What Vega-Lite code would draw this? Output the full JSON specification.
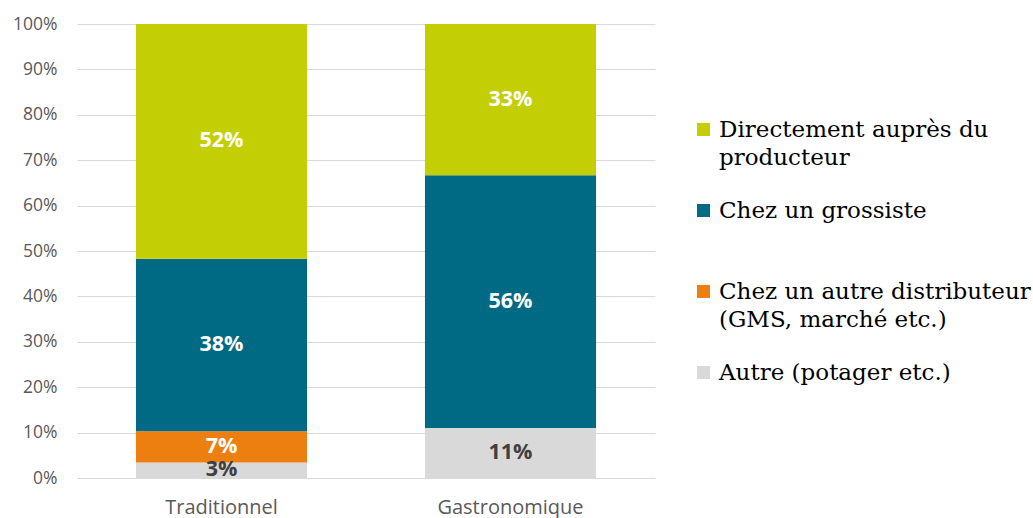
{
  "$schema": "https://vega.github.io/schema/vega-lite/v6.json",
  "width": 578,
  "height": 454,
  "autosize": {"type": "none"},
  "padding": {"left": 77, "top": 24, "right": 378, "bottom": 40},
  "background": "white",
  "config": {"view": {"stroke": null}, "font": "Open Sans", "style": {"guide-label": {"lineHeight": 28}}},
  "data": {"values": [
    {"type": "Traditionnel", "cat": "Autre (potager etc.)", "k": 1, "v": 0.034},
    {"type": "Traditionnel", "cat": "Chez un autre distributeur (GMS, marché etc.)", "k": 2, "v": 0.069},
    {"type": "Traditionnel", "cat": "Chez un grossiste", "k": 3, "v": 0.38},
    {"type": "Traditionnel", "cat": "Directement auprès du producteur", "k": 4, "v": 0.517},
    {"type": "Gastronomique", "cat": "Autre (potager etc.)", "k": 1, "v": 0.11},
    {"type": "Gastronomique", "cat": "Chez un grossiste", "k": 3, "v": 0.557},
    {"type": "Gastronomique", "cat": "Directement auprès du producteur", "k": 4, "v": 0.333}
  ]},
  "transform": [
    {"stack": "v", "groupby": ["type"], "sort": [{"field": "k", "order": "ascending"}], "as": ["v0", "v1"]},
    {"calculate": "(datum.v0 + datum.v1) / 2", "as": "mid"}
  ],
  "encoding": {
    "x": {
      "field": "type", "type": "nominal", "sort": ["Traditionnel", "Gastronomique"],
      "scale": {"paddingInner": 0.408, "paddingOuter": 0.204},
      "axis": {"title": null, "labelAngle": 0, "domain": false, "ticks": false, "tickSize": 0, "labelPadding": 19, "labelFontSize": 20, "labelColor": "#595959", "labelFont": "Open Sans"}
    }
  },
  "layer": [
    {
      "mark": {"type": "bar"},
      "encoding": {
        "y": {"field": "v1", "type": "quantitative", "scale": {"domain": [0, 1]},
          "axis": {"title": null, "format": ".0%", "values": [0, 0.1, 0.2, 0.3, 0.4, 0.5, 0.6, 0.7, 0.8, 0.9, 1], "domain": false, "ticks": false, "tickSize": 0, "labelPadding": 20, "labelFontSize": 17.5, "labelColor": "#595959", "labelFont": "Open Sans", "gridColor": "#d9d9d9", "gridWidth": 1.2}},
        "y2": {"field": "v0"},
        "color": {
          "field": "cat", "type": "nominal",
          "scale": {
            "domain": ["Directement auprès du producteur", "Chez un grossiste", "Chez un autre distributeur (GMS, marché etc.)", "Autre (potager etc.)"],
            "range": ["#c3ce04", "#006984", "#ed7f10", "#d9d9d9"]
          },
          "legend": {
            "title": null, "orient": "none", "legendX": 615, "legendY": 94, "padding": 0,
            "symbolType": "square", "symbolSize": 169, "symbolStrokeWidth": 0, "symbolOpacity": 1,
            "labelFont": "DejaVu Serif", "labelFontSize": 23, "labelColor": "#000000", "labelLimit": 420, "labelOffset": 4,
            "rowPadding": 29,
            "labelExpr": "datum.label == 'Directement auprès du producteur' ? ['Directement auprès du', 'producteur'] : datum.label == 'Chez un autre distributeur (GMS, marché etc.)' ? ['Chez un autre distributeur', '(GMS, marché etc.)'] : [datum.label, '']"
          }
        }
      }
    },
    {
      "mark": {"type": "text", "fontWeight": "bold", "fontSize": 21.5, "font": "Open Sans"},
      "encoding": {
        "y": {"field": "mid", "type": "quantitative"},
        "text": {"field": "v", "type": "quantitative", "format": ".0%"},
        "color": {"condition": {"test": "datum.k == 1", "value": "#404040"}, "value": "#ffffff"}
      }
    }
  ]
}
